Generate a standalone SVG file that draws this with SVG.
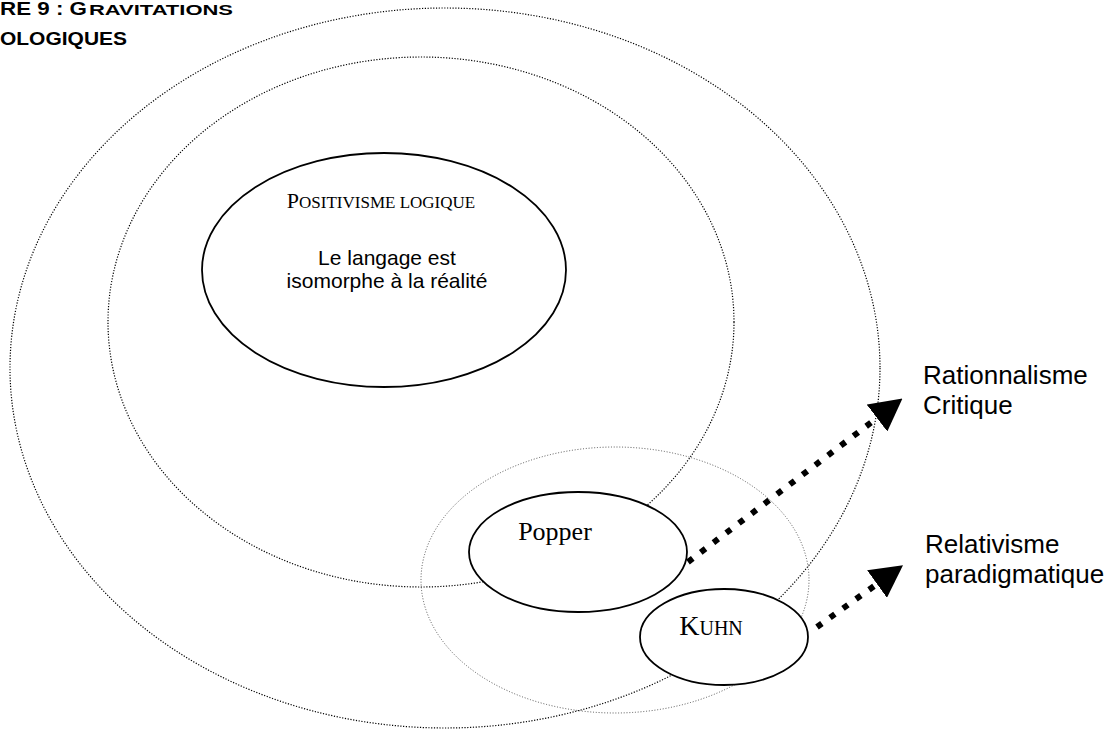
<svg xmlns="http://www.w3.org/2000/svg" width="1118" height="730" viewBox="0 0 1118 730">
<style>
.dot{fill:none;stroke:#000;stroke-width:1.2;stroke-dasharray:1.2 1.6}
.dotl{fill:none;stroke:#444;stroke-width:0.9;stroke-dasharray:1 1.8}
.solid{fill:#fff;stroke:#000;stroke-width:1.8}
.serif{font-family:"Liberation Serif","Times New Roman",serif;fill:#000}
.sans{font-family:"Liberation Sans",Arial,sans-serif;fill:#000}
.title{font-family:"Liberation Sans",Arial,sans-serif;font-weight:bold;fill:#000}
.conn{fill:none;stroke:#000;stroke-width:6;stroke-dasharray:6 10}
</style>
<defs>
<marker id="ah" viewBox="0 0 32 34" refX="0" refY="17" markerWidth="32" markerHeight="34" markerUnits="userSpaceOnUse" orient="auto">
<path d="M0,0 L32,17 L0,34 z" fill="#000"/>
</marker>
</defs>
<rect width="1118" height="730" fill="#fff"/>
<g id="title">
<text class="title" y="15" font-size="18"><tspan x="0" textLength="87" lengthAdjust="spacingAndGlyphs">RE 9 : G</tspan><tspan x="89" font-size="14" textLength="144" lengthAdjust="spacingAndGlyphs">RAVITATIONS</tspan></text>
<text class="title" x="0" y="45" font-size="18" textLength="127" lengthAdjust="spacingAndGlyphs">OLOGIQUES</text>
</g>
<g id="outer"><ellipse class="dot" cx="445" cy="368" rx="435" ry="360"/></g>
<g id="middle"><ellipse class="dot" cx="421" cy="322" rx="313" ry="265"/></g>
<g id="small"><ellipse class="dotl" cx="615" cy="580" rx="194" ry="133"/></g>
<g id="positivisme">
<ellipse class="solid" cx="384" cy="270" rx="182" ry="117"/>
<text class="serif" x="381" y="208" text-anchor="middle" font-size="22">P<tspan font-size="17">OSITIVISME LOGIQUE</tspan></text>
<text class="sans" x="387" y="265" text-anchor="middle" font-size="21">Le langage est</text>
<text class="sans" x="387" y="288" text-anchor="middle" font-size="21">isomorphe à la réalité</text>
</g>
<g id="popper">
<ellipse class="solid" cx="578" cy="552" rx="109" ry="60"/>
<text class="serif" x="555" y="540" text-anchor="middle" font-size="26">Popper</text>
</g>
<g id="kuhn">
<ellipse class="solid" cx="724" cy="637" rx="84" ry="48"/>
<text class="serif" x="711" y="635" text-anchor="middle" font-size="28">K<tspan font-size="20">UHN</tspan></text>
</g>
<g id="connectors">
<path class="conn" d="M688,562 L877,418" marker-end="url(#ah)"/>
<path class="conn" d="M817,627 L877,584" marker-end="url(#ah)"/>
</g>
<g id="rationnalisme">
<text class="sans" x="923" y="384" font-size="26">Rationnalisme</text>
<text class="sans" x="923" y="414" font-size="26">Critique</text>
</g>
<g id="relativisme">
<text class="sans" x="925" y="553" font-size="26">Relativisme</text>
<text class="sans" x="925" y="583" font-size="26">paradigmatique</text>
</g>
</svg>
